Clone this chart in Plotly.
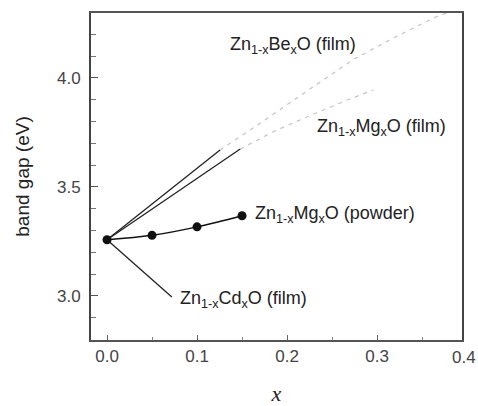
import plotly.graph_objects as go

# Data
powder_x = [0.0, 0.05, 0.10, 0.15]
powder_y = [3.258, 3.278, 3.317, 3.368]

be_solid_x = [0.0, 0.1256]
be_solid_y = [3.258, 3.670]
be_dash_x = [0.1256, 0.164, 0.214, 0.273, 0.318, 0.370, 0.381]
be_dash_y = [3.670, 3.775, 3.917, 4.083, 4.183, 4.289, 4.300]

mg_solid_x = [0.0, 0.148]
mg_solid_y = [3.258, 3.674]
mg_dash_x = [0.148, 0.184, 0.222, 0.267, 0.296]
mg_dash_y = [3.674, 3.752, 3.821, 3.899, 3.945]

cd_x = [0.0, 0.072]
cd_y = [3.258, 2.995]

x_ticks = [0.0, 0.1, 0.2, 0.3]
x_tick_text = ["0.0", "0.1", "0.2", "0.3"]
y_ticks = [3.0, 3.5, 4.0]
y_tick_text = ["3.0", "3.5", "4.0"]

labels = [
    ("Zn<sub>1-x</sub>Be<sub>x</sub>O (film)", 0.134, 4.151),
    ("Zn<sub>1-x</sub>Mg<sub>x</sub>O (film)", 0.231, 3.775),
    ("Zn<sub>1-x</sub>Mg<sub>x</sub>O (powder)", 0.162, 3.372),
    ("Zn<sub>1-x</sub>Cd<sub>x</sub>O (film)", 0.079, 2.986),
]

XR = [-0.0178, 0.3944]
YR = [2.798, 4.298]

fig = go.Figure()
dash_style = dict(color="#c4c4c4", width=1.2, dash="4px,5px")
fig.add_trace(go.Scatter(x=be_dash_x, y=be_dash_y, mode="lines", line=dash_style, showlegend=False))
fig.add_trace(go.Scatter(x=mg_dash_x, y=mg_dash_y, mode="lines", line=dash_style, showlegend=False))
fig.add_trace(go.Scatter(x=be_solid_x, y=be_solid_y, mode="lines", line=dict(color="#222", width=1.3), showlegend=False))
fig.add_trace(go.Scatter(x=mg_solid_x, y=mg_solid_y, mode="lines", line=dict(color="#222", width=1.3), showlegend=False))
fig.add_trace(go.Scatter(x=cd_x, y=cd_y, mode="lines", line=dict(color="#222", width=1.3), showlegend=False))
fig.add_trace(go.Scatter(x=powder_x, y=powder_y, mode="lines+markers",
                         line=dict(color="#111", width=1.5, shape="spline"),
                         marker=dict(color="#111", size=9), showlegend=False))

for txt, x, y in labels:
    fig.add_annotation(x=x, y=y, text=txt, showarrow=False, xanchor="left", yanchor="middle",
                       font=dict(size=18, color="#222", family="Arial, Liberation Sans"))

# out-of-range tick label "0.4" at right edge
fig.add_annotation(x=(0.4 - XR[0]) / (XR[1] - XR[0]), y=0, xref="paper", yref="paper",
                   xshift=-3, yshift=-6, text="0.4", showarrow=False, xanchor="center", yanchor="top",
                   font=dict(size=17, color="#444", family="Arial, Liberation Sans"))

fig.update_layout(
    width=478, height=406,
    margin=dict(l=91, r=16, t=13, b=66, autoexpand=False),
    paper_bgcolor="white", plot_bgcolor="white",
    font=dict(family="Arial, Liberation Sans", size=17, color="#444"),
)
fig.update_xaxes(range=XR, tickvals=x_ticks, ticktext=x_tick_text, ticks="inside", ticklen=5,
                 tickcolor="#666", showgrid=False, zeroline=False, showline=True, linecolor="#555",
                 linewidth=2, mirror=True, automargin=False,
                 minor=dict(dtick=0.05, ticks="inside", ticklen=3, tickcolor="#888"),
                 title=dict(text="<i>x</i>", font=dict(family="Liberation Serif, Times New Roman", size=22, color="#222"),
                            standoff=28))
fig.update_yaxes(range=YR, tickvals=y_ticks, ticktext=y_tick_text, ticks="inside", ticklen=7,
                 tickcolor="#555", showgrid=False, zeroline=False, showline=True, linecolor="#444",
                 linewidth=2, mirror=True, automargin=False, ticklabelstandoff=5,
                 minor=dict(dtick=0.1, ticks="inside", ticklen=5, tickcolor="#777"),
                 title=dict(text="band gap (eV)", font=dict(size=19, color="#222"), standoff=22))

fig.write_html("out.html", config={"displayModeBar": False},
               post_script="document.body.style.margin='0';")
